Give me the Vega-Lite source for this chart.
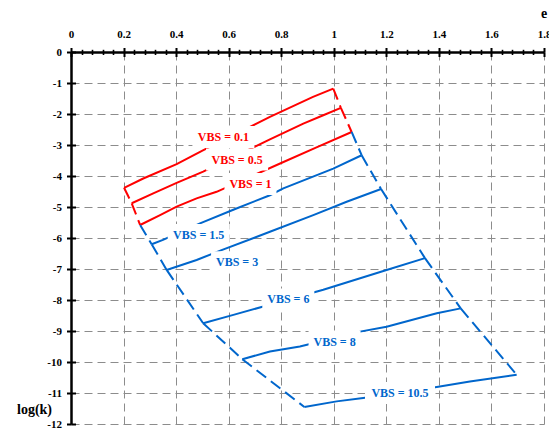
{
  "$schema": "https://vega.github.io/schema/vega-lite/v6.json",
  "width": 473,
  "height": 372,
  "autosize": "none",
  "padding": {"left": 71, "top": 52, "right": 5, "bottom": 8},
  "background": "white",
  "config": {
    "view": {"stroke": null},
    "axis": {
      "labelFont": "Liberation Serif", "labelFontWeight": "bold", "labelFontSize": 11, "labelColor": "black",
      "titleFont": "Liberation Serif", "titleFontWeight": "bold", "titleFontSize": 14, "titleColor": "black",
      "tickColor": "black", "domainColor": "black",
      "gridColor": "#8c8c8c", "gridDash": [8, 5], "gridWidth": 1,
      "labelFlush": false, "labelOverlap": false, "labelBound": false
    }
  },
  "datasets": {
    "lines": [
      {"vbs": "0.1", "e": 0.202, "logk": -4.38}, {"vbs": "0.1", "e": 0.275, "logk": -4.08}, {"vbs": "0.1", "e": 0.402, "logk": -3.62}, {"vbs": "0.1", "e": 0.502, "logk": -3.17}, {"vbs": "0.1", "e": 0.681, "logk": -2.42}, {"vbs": "0.1", "e": 0.757, "logk": -2.09}, {"vbs": "0.1", "e": 0.921, "logk": -1.45}, {"vbs": "0.1", "e": 0.998, "logk": -1.18},
      {"vbs": "0.5", "e": 0.231, "logk": -4.88}, {"vbs": "0.5", "e": 0.313, "logk": -4.56}, {"vbs": "0.5", "e": 0.402, "logk": -4.22}, {"vbs": "0.5", "e": 0.503, "logk": -3.86}, {"vbs": "0.5", "e": 0.757, "logk": -2.82}, {"vbs": "0.5", "e": 0.884, "logk": -2.31}, {"vbs": "0.5", "e": 0.96, "logk": -2.04}, {"vbs": "0.5", "e": 1.027, "logk": -1.8},
      {"vbs": "1", "e": 0.263, "logk": -5.58}, {"vbs": "1", "e": 0.339, "logk": -5.26}, {"vbs": "1", "e": 0.402, "logk": -4.99}, {"vbs": "1", "e": 0.478, "logk": -4.72}, {"vbs": "1", "e": 0.554, "logk": -4.51}, {"vbs": "1", "e": 0.8, "logk": -3.58}, {"vbs": "1", "e": 0.93, "logk": -3.09}, {"vbs": "1", "e": 1.068, "logk": -2.58},
      {"vbs": "1.5", "e": 0.307, "logk": -6.2}, {"vbs": "1.5", "e": 0.35, "logk": -6.06}, {"vbs": "1.5", "e": 0.491, "logk": -5.53}, {"vbs": "1.5", "e": 0.62, "logk": -5.08}, {"vbs": "1.5", "e": 0.757, "logk": -4.62}, {"vbs": "1.5", "e": 0.808, "logk": -4.4}, {"vbs": "1.5", "e": 0.998, "logk": -3.76}, {"vbs": "1.5", "e": 1.106, "logk": -3.33},
      {"vbs": "3", "e": 0.364, "logk": -7.03}, {"vbs": "3", "e": 0.478, "logk": -6.71}, {"vbs": "3", "e": 0.573, "logk": -6.39}, {"vbs": "3", "e": 0.757, "logk": -5.8}, {"vbs": "3", "e": 0.922, "logk": -5.26}, {"vbs": "3", "e": 1.049, "logk": -4.83}, {"vbs": "3", "e": 1.18, "logk": -4.42},
      {"vbs": "6", "e": 0.503, "logk": -8.75}, {"vbs": "6", "e": 0.618, "logk": -8.48}, {"vbs": "6", "e": 0.732, "logk": -8.21}, {"vbs": "6", "e": 0.96, "logk": -7.67}, {"vbs": "6", "e": 1.201, "logk": -7.03}, {"vbs": "6", "e": 1.347, "logk": -6.65},
      {"vbs": "8", "e": 0.652, "logk": -9.91}, {"vbs": "8", "e": 0.757, "logk": -9.66}, {"vbs": "8", "e": 0.871, "logk": -9.5}, {"vbs": "8", "e": 1.1, "logk": -9.02}, {"vbs": "8", "e": 1.201, "logk": -8.86}, {"vbs": "8", "e": 1.392, "logk": -8.43}, {"vbs": "8", "e": 1.483, "logk": -8.27},
      {"vbs": "10.5", "e": 0.888, "logk": -11.45}, {"vbs": "10.5", "e": 1.011, "logk": -11.27}, {"vbs": "10.5", "e": 1.112, "logk": -11.16}, {"vbs": "10.5", "e": 1.392, "logk": -10.81}, {"vbs": "10.5", "e": 1.518, "logk": -10.63}, {"vbs": "10.5", "e": 1.696, "logk": -10.41}
    ],
    "bounds": [
      {"seg": "L0.5", "vbs": "0.5", "e": 0.202, "logk": -4.38}, {"seg": "L0.5", "vbs": "0.5", "e": 0.231, "logk": -4.88},
      {"seg": "L1", "vbs": "1", "e": 0.231, "logk": -4.88}, {"seg": "L1", "vbs": "1", "e": 0.263, "logk": -5.58},
      {"seg": "L1.5", "vbs": "1.5", "e": 0.263, "logk": -5.58}, {"seg": "L1.5", "vbs": "1.5", "e": 0.307, "logk": -6.2},
      {"seg": "L3", "vbs": "3", "e": 0.307, "logk": -6.2}, {"seg": "L3", "vbs": "3", "e": 0.364, "logk": -7.03},
      {"seg": "L6", "vbs": "6", "e": 0.364, "logk": -7.03}, {"seg": "L6", "vbs": "6", "e": 0.503, "logk": -8.75},
      {"seg": "L8", "vbs": "8", "e": 0.503, "logk": -8.75}, {"seg": "L8", "vbs": "8", "e": 0.652, "logk": -9.91},
      {"seg": "L10.5", "vbs": "10.5", "e": 0.652, "logk": -9.91}, {"seg": "L10.5", "vbs": "10.5", "e": 0.888, "logk": -11.45},
      {"seg": "R0.5", "vbs": "0.5", "e": 0.998, "logk": -1.18}, {"seg": "R0.5", "vbs": "0.5", "e": 1.027, "logk": -1.8},
      {"seg": "R1", "vbs": "1", "e": 1.027, "logk": -1.8}, {"seg": "R1", "vbs": "1", "e": 1.068, "logk": -2.58},
      {"seg": "R1.5", "vbs": "1.5", "e": 1.068, "logk": -2.58}, {"seg": "R1.5", "vbs": "1.5", "e": 1.106, "logk": -3.33},
      {"seg": "R3", "vbs": "3", "e": 1.106, "logk": -3.33}, {"seg": "R3", "vbs": "3", "e": 1.18, "logk": -4.42},
      {"seg": "R6", "vbs": "6", "e": 1.18, "logk": -4.42}, {"seg": "R6", "vbs": "6", "e": 1.347, "logk": -6.65},
      {"seg": "R8", "vbs": "8", "e": 1.347, "logk": -6.65}, {"seg": "R8", "vbs": "8", "e": 1.483, "logk": -8.27},
      {"seg": "R10.5", "vbs": "10.5", "e": 1.483, "logk": -8.27}, {"seg": "R10.5", "vbs": "10.5", "e": 1.696, "logk": -10.41}
    ],
    "labels": [
      {"vbs": "0.1", "label": "VBS = 0.1", "e": 0.58, "logk": -2.74},
      {"vbs": "0.5", "label": "VBS = 0.5", "e": 0.632, "logk": -3.47},
      {"vbs": "1", "label": "VBS = 1", "e": 0.683, "logk": -4.26},
      {"vbs": "1.5", "label": "VBS = 1.5", "e": 0.486, "logk": -5.9},
      {"vbs": "3", "label": "VBS = 3", "e": 0.632, "logk": -6.78},
      {"vbs": "6", "label": "VBS = 6", "e": 0.827, "logk": -7.98},
      {"vbs": "8", "label": "VBS = 8", "e": 1.003, "logk": -9.34},
      {"vbs": "10.5", "label": "VBS = 10.5", "e": 1.252, "logk": -11.0}
    ]
  },
  "layer": [
    {
      "data": {"name": "lines"},
      "mark": {"type": "line", "strokeWidth": 2},
      "encoding": {
        "x": {"field": "e", "type": "quantitative",
          "scale": {"domain": [0, 1.8], "nice": false, "zero": false},
          "axis": {"orient": "top", "values": [0, 0.2, 0.4, 0.6, 0.8, 1, 1.2, 1.4, 1.6, 1.8], "title": "e",
            "tickSize": 4.5, "tickWidth": 2, "domainWidth": 2.5, "grid": true, "labelPadding": 8,
            "labelExpr": "datum.value + ''", "titleX": 472.7, "titleY": -35, "titleAlign": "center", "titleBaseline": "alphabetic"}},
        "y": {"field": "logk", "type": "quantitative",
          "scale": {"domain": [-12, 0], "nice": false, "zero": false},
          "axis": {"orient": "left", "values": [0, -1, -2, -3, -4, -5, -6, -7, -8, -9, -10, -11, -12], "title": "log(k)",
            "tickSize": 4.5, "tickWidth": 2, "domainWidth": 2.5, "grid": true, "labelPadding": 5,
            "labelExpr": "datum.value + ''", "titleX": -37, "titleY": 361, "titleAngle": 0, "titleAlign": "center", "titleBaseline": "alphabetic"}},
        "color": {"field": "vbs", "type": "nominal",
          "scale": {"domain": ["0.1", "0.5", "1", "1.5", "3", "6", "8", "10.5"],
            "range": ["#ff0000", "#ff0000", "#ff0000", "#0066cc", "#0066cc", "#0066cc", "#0066cc", "#0066cc"]},
          "legend": null}
      }
    },
    {
      "data": {"name": "bounds"},
      "mark": {"type": "line", "strokeWidth": 2, "strokeDash": [12, 6]},
      "encoding": {
        "x": {"field": "e", "type": "quantitative",
          "scale": {"domain": [0, 1.8], "nice": false, "zero": false},
          "axis": {"orient": "top", "values": [0, 0.2, 0.4, 0.6, 0.8, 1, 1.2, 1.4, 1.6, 1.8], "title": null,
            "tickSize": -4.5, "tickWidth": 2, "domain": false, "grid": false, "labels": false}},
        "y": {"field": "logk", "type": "quantitative",
          "scale": {"domain": [-12, 0], "nice": false, "zero": false},
          "axis": {"orient": "left", "values": [0, -1, -2, -3, -4, -5, -6, -7, -8, -9, -10, -11, -12], "title": null,
            "tickSize": -4.5, "tickWidth": 2, "domain": false, "grid": false, "labels": false}},
        "detail": {"field": "seg"},
        "color": {"field": "vbs", "type": "nominal", "legend": null}
      }
    },
    {
      "data": {"name": "labels"},
      "mark": {"type": "point", "filled": true, "color": "white", "opacity": 1, "size": 4900, "strokeWidth": 0},
      "encoding": {
        "x": {"field": "e", "type": "quantitative",
          "scale": {"domain": [0, 1.8], "nice": false, "zero": false},
          "axis": {"orient": "top", "values": [0.04, 0.08, 0.12, 0.16, 0.24, 0.28, 0.32, 0.36, 0.44, 0.48, 0.52, 0.56, 0.64, 0.68, 0.72, 0.76, 0.84, 0.88, 0.92, 0.96, 1.04, 1.08, 1.12, 1.16, 1.24, 1.28, 1.32, 1.36, 1.44, 1.48, 1.52, 1.56, 1.64, 1.68, 1.72, 1.76],
            "title": null, "tickSize": 2.7, "tickWidth": 1.6, "domain": false, "grid": false, "labels": false}},
        "y": {"field": "logk", "type": "quantitative",
          "scale": {"domain": [-12, 0], "nice": false, "zero": false}, "axis": null},
        "shape": {"field": "vbs", "type": "nominal",
          "scale": {"domain": ["0.1", "0.5", "1", "1.5", "3", "6", "8", "10.5"],
            "range": ["M-0.886,-0.314H0.886V0.314H-0.886Z", "M-0.886,-0.314H0.886V0.314H-0.886Z", "M-0.743,-0.314H0.743V0.314H-0.743Z", "M-0.886,-0.314H0.886V0.314H-0.886Z", "M-0.743,-0.314H0.743V0.314H-0.743Z", "M-0.743,-0.314H0.743V0.314H-0.743Z", "M-0.743,-0.314H0.743V0.314H-0.743Z", "M-1,-0.314H1V0.314H-1Z"]},
          "legend": null}
      }
    },
    {
      "data": {"name": "labels"},
      "mark": {"type": "text", "font": "Liberation Serif", "fontWeight": "bold", "fontSize": 12, "align": "center", "baseline": "middle"},
      "encoding": {
        "x": {"field": "e", "type": "quantitative",
          "scale": {"domain": [0, 1.8], "nice": false, "zero": false},
          "axis": {"orient": "top", "values": [0.04, 0.08, 0.12, 0.16, 0.24, 0.28, 0.32, 0.36, 0.44, 0.48, 0.52, 0.56, 0.64, 0.68, 0.72, 0.76, 0.84, 0.88, 0.92, 0.96, 1.04, 1.08, 1.12, 1.16, 1.24, 1.28, 1.32, 1.36, 1.44, 1.48, 1.52, 1.56, 1.64, 1.68, 1.72, 1.76],
            "title": null, "tickSize": -2.5, "tickWidth": 1.6, "domain": false, "grid": false, "labels": false}},
        "y": {"field": "logk", "type": "quantitative",
          "scale": {"domain": [-12, 0], "nice": false, "zero": false}, "axis": null},
        "text": {"field": "label"},
        "color": {"field": "vbs", "type": "nominal", "legend": null}
      }
    }
  ],
  "resolve": {"scale": {"x": "independent", "y": "independent"}, "axis": {"x": "independent", "y": "independent"}}
}
